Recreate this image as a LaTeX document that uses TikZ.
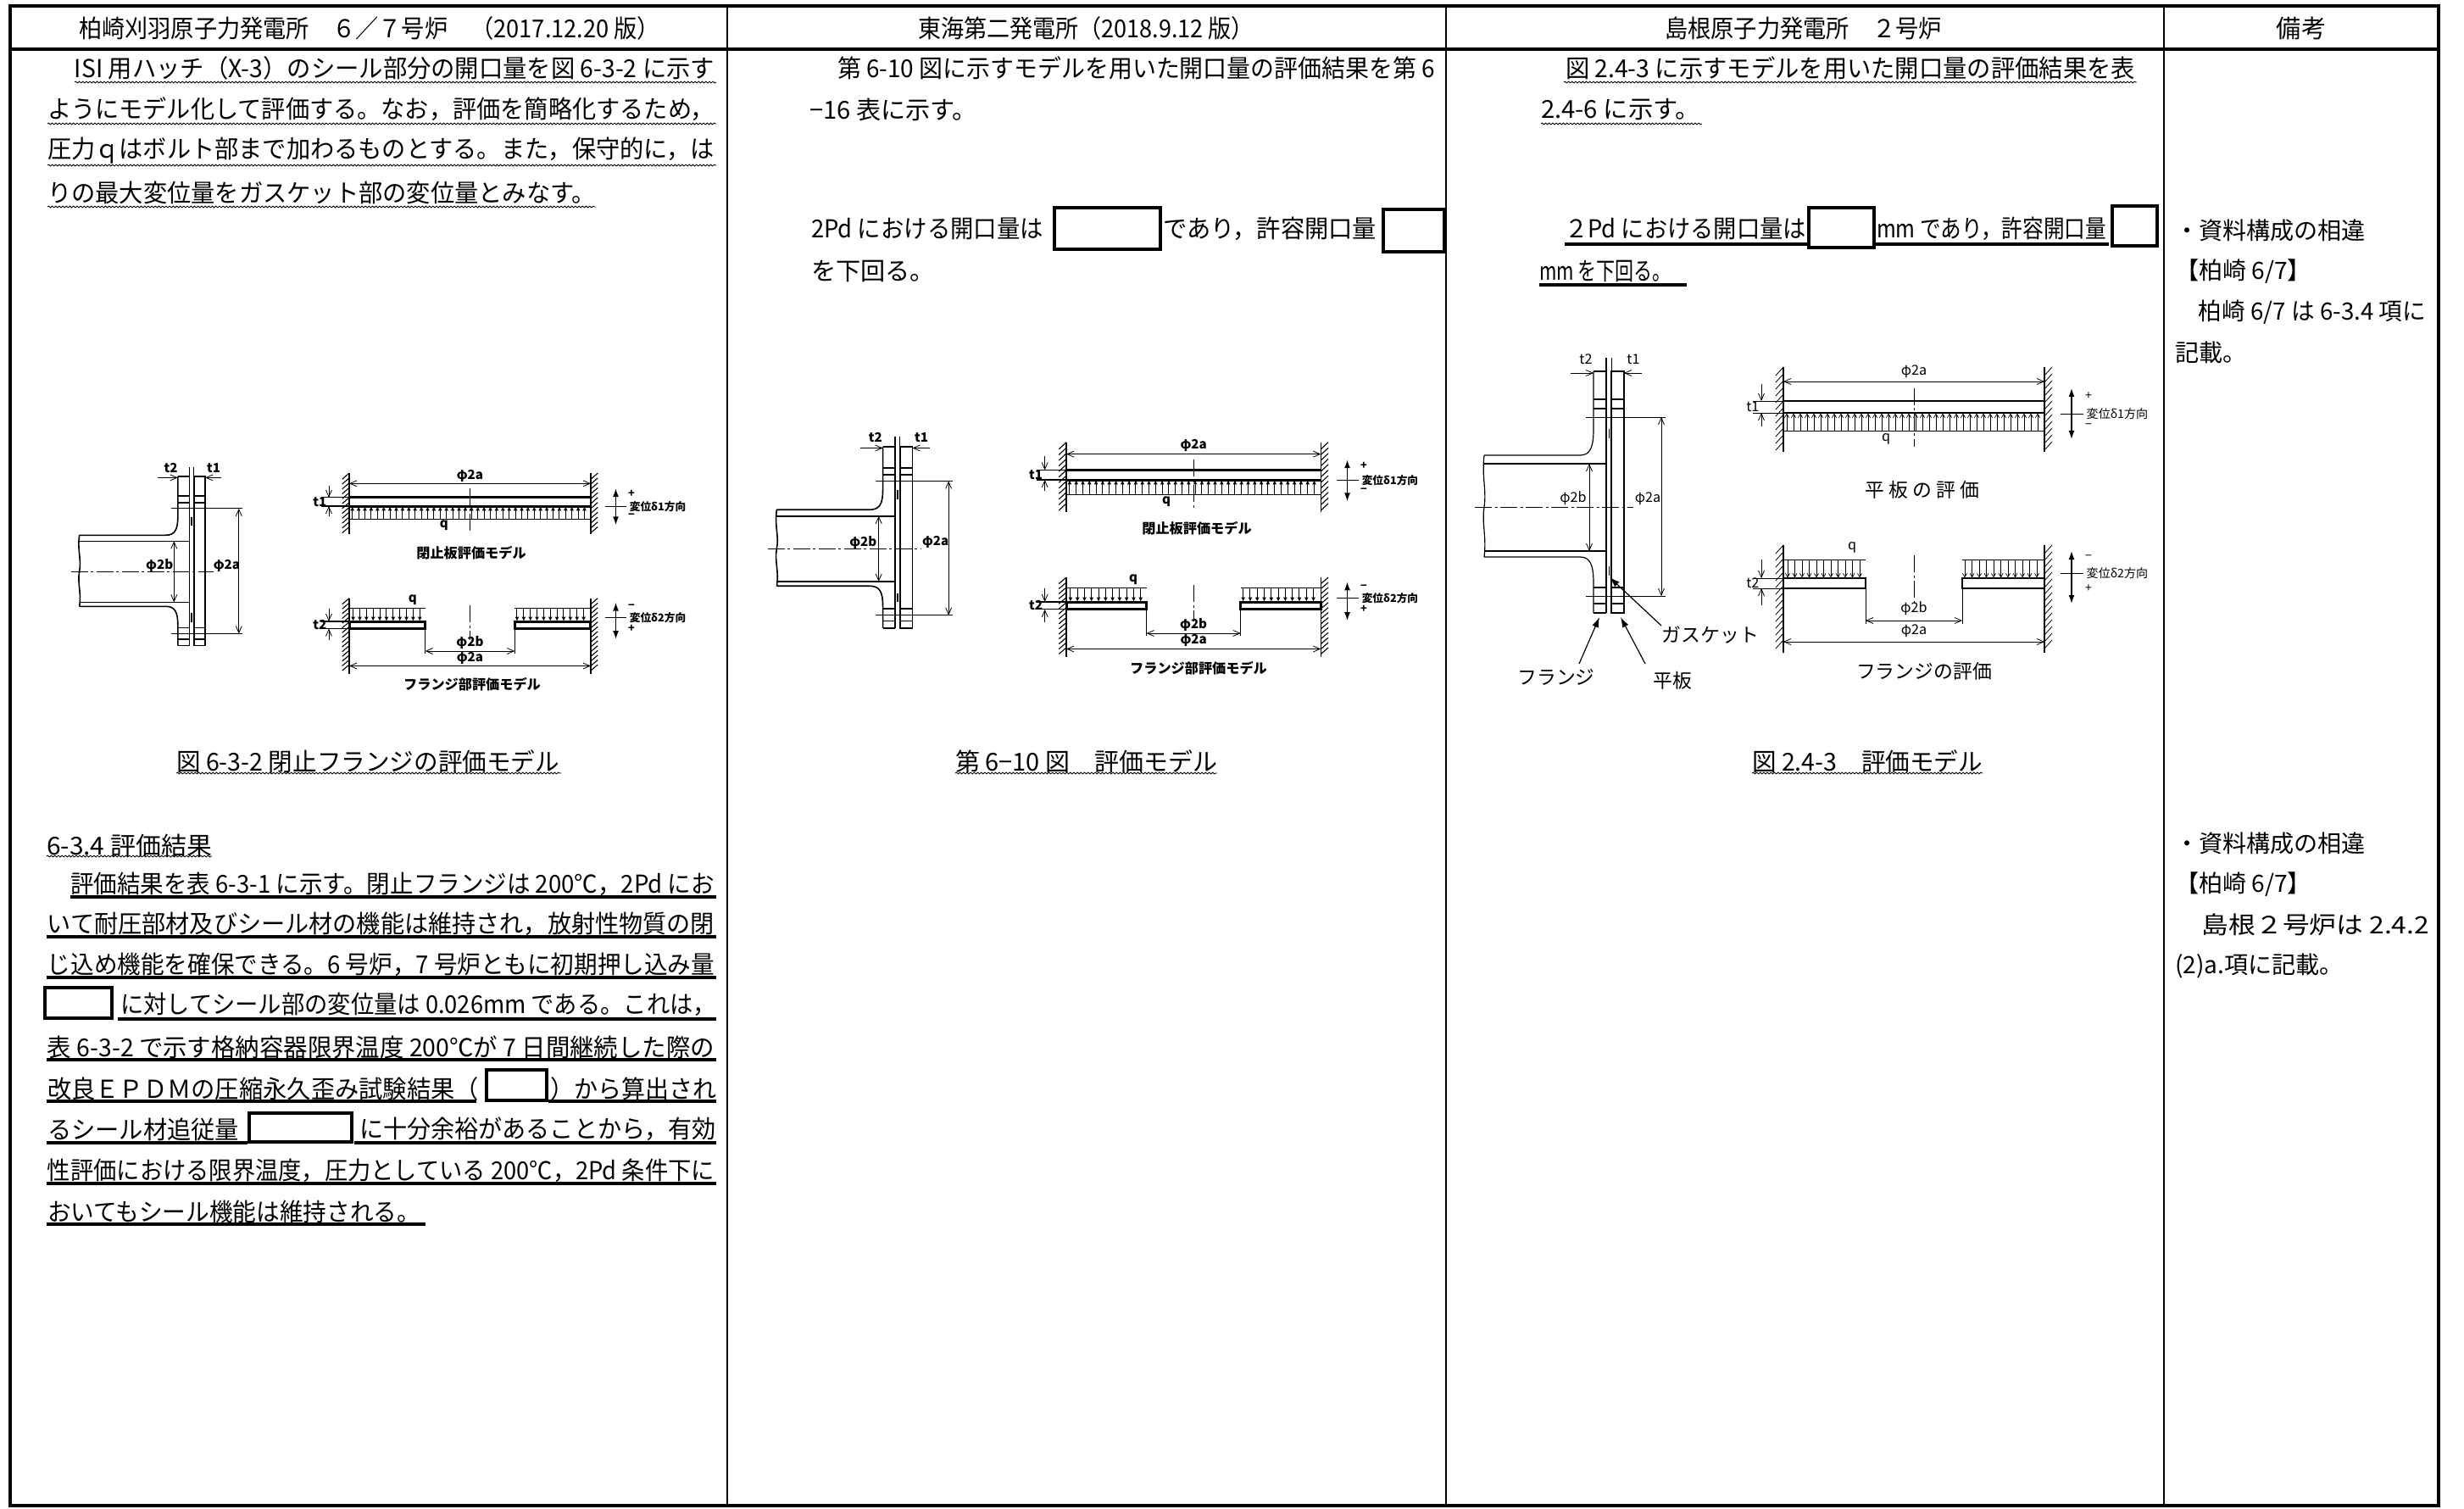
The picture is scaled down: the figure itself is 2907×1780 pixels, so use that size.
\documentclass[tikz,border=0pt]{standalone}
\usepackage{fontspec}
\usepackage{graphicx}
\newfontfamily\cjk{Noto Sans CJK JP}
\usetikzlibrary{arrows.meta,decorations.pathmorphing}
\newdimen\pxu \pxu=0.1mm
\newcommand\fw[2]{\resizebox{#1\pxu}{\height}{#2}}

\tikzset{
 txt/.style={inner sep=0pt, outer sep=0pt, anchor=west, font=\cjk\fontsize{8.3pt}{10pt}\selectfont},
 ctxt/.style={txt, anchor=center},
 nte/.style={txt, font=\cjk\fontsize{8pt}{10pt}\selectfont},
 wavy/.style={line width=0.09mm, decorate, decoration={snake, amplitude=0.09mm, segment length=0.42mm}},
 ul/.style={line width=0.33mm},
 blk/.style={draw, line width=0.45mm, fill=white},
 outer/.style={line width=0.35mm},
 colsep/.style={line width=0.22mm},
 pl/.style={line width=0.12mm},
 thinl/.style={line width=0.08mm},
 plt/.style={line width=0.24mm},
 cl/.style={line width=0.08mm, dash pattern=on 2mm off 0.35mm on 0.3mm off 0.35mm},
 dimn/.style={line width=0.08mm, {Straight Barb[length=0.8mm,width=0.7mm]}-{Straight Barb[length=0.8mm,width=0.7mm]}},
 dimr/.style={line width=0.08mm, -{Straight Barb[length=0.8mm,width=0.7mm]}},
 load/.style={line width=0.07mm, -{Straight Barb[length=0.45mm,width=0.5mm]}},
 dsp/.style={line width=0.15mm, {Latex[length=1mm,width=0.7mm]}-{Latex[length=1mm,width=0.7mm]}},
 lab/.style={inner sep=0pt, font=\cjk\fontsize{4.6pt}{5pt}\selectfont},
 slab/.style={inner sep=0pt, font=\cjk\fontsize{4pt}{5pt}\selectfont},
 glab/.style={inner sep=0pt, font=\cjk\fontsize{6.5pt}{7pt}\selectfont},
 bcap/.style={inner sep=0pt, font=\cjk\bfseries\fontsize{4.6pt}{5pt}\selectfont},
 leader/.style={line width=0.12mm, -{Latex[length=1.2mm,width=0.8mm]}},
 heavy/.style={pl/.style={line width=0.16mm}, plt/.style={line width=0.3mm},
   thinl/.style={line width=0.11mm},
   lab/.style={inner sep=0pt, font=\cjk\bfseries\fontsize{4.3pt}{5pt}\selectfont},
   slab/.style={inner sep=0pt, font=\cjk\bfseries\fontsize{3.6pt}{4pt}\selectfont},
   load/.style={line width=0.1mm, -{Latex[length=0.5mm,width=0.5mm]}}},
}

\newcommand\flangesec[1]{%
 \draw[pl] (3,-160) rectangle (18,125);
 \draw[pl] (-3,-176) -- (-3,125);
 \draw[thinl] (3,-176) -- (3,-160);
 \draw[pl] (-18,-160) -- (-3,-160) (-18,125) -- (-3,125);
 \draw[pl] (-18,-160) -- (-18,-92) .. controls (-18,-70) and (-22,-61) .. (-34,-61) -- (-147,-61);
 \draw[pl] (-18,125) -- (-18,90) .. controls (-18,68) and (-22,59) .. (-34,59) -- (-147,59);
 \draw[pl] (-147,-51) -- (-3,-51) (-147,52) -- (-3,52);
 \draw[pl] (-147,-61) .. controls (-150,-35) and (-144,-20) .. (-147,0) .. controls (-150,20) and (-144,35) .. (-147,59);
 \foreach \yy in {-127,-116,95,114} {\draw[pl] (-18,\yy) -- (-3,\yy) (3,\yy) -- (18,\yy);}
 \draw[thinl] (-27,-106) -- (67,-106) (-27,105) -- (67,105);
 \draw[thinl,dashed] (0,-92) -- (0,-72) (0,70) -- (0,90);
 \draw[cl] (-158,0) -- (29,0);
 \draw[dimn] (-23,-51) -- (-23,52);
 \draw[dimn] (62,-106) -- (62,105);
 \draw[dimr] (-45,-158) -- (-18,-158);
 \draw[dimr] (39,-158) -- (18,-158);
 \node[lab] (#1t2) at (-27,-174) {t2};
 \node[lab] (#1t1) at (29,-174) {t1};
 \node[lab] (#1b) at (-42,-10) {φ2b};
 \node[lab] (#1a) at (46,-10) {φ2a};
}

\newcommand\platemodel[1]{%
 \draw[pl] (0,-54) -- (0,46) (308,-54) -- (308,46);
 \foreach \yy in {-54,-46,...,36} {\draw[thinl] (-9,\yy+10) -- (0,\yy) (308,\yy+10) -- (317,\yy);}
 \draw[dimn] (0,-37) -- (308,-37);
 \node[lab] (#1a) at (154,-49) {φ2a};
 \draw[plt] (0,-14) -- (308,-14) (0,0) -- (308,0);
 \draw[thinl] (0,21) -- (308,21);
 \foreach \xx in {4,12,...,300} {\draw[load] (\xx,21) -- (\xx,0.5);}
 \node[lab] (#1q) at (121,31) {q};
 \draw[cl] (154,-29) -- (154,40);
 \draw[thinl] (-36,-14) -- (0,-14) (-36,0) -- (0,0);
 \draw[dimr] (-26,-34) -- (-26,-14);
 \draw[dimr] (-26,16) -- (-26,0);
 \node[lab,anchor=east] (#1t) at (-28,-7) {t1};
 \draw[dsp] (340,-29) -- (340,31);
 \draw[thinl] (327,1) -- (354,1);
 \node[slab] (#1p) at (360,-20) {+};
 \node[slab] (#1m) at (360,16) {−};
 \node[slab,anchor=west] (#1d) at (357,1) {変位δ1方向};
}

\newcommand\flangemodel[1]{%
 \draw[pl] (0,-39) -- (0,88) (308,-39) -- (308,88);
 \foreach \yy in {-39,-31,...,78} {\draw[thinl] (-9,\yy+10) -- (0,\yy) (308,\yy+10) -- (317,\yy);}
 \draw[plt] (0,0) rectangle (97,12) (211,0) rectangle (308,12);
 \draw[thinl] (0,-22) -- (97,-22) (211,-22) -- (308,-22);
 \foreach \xx in {5,13.5,...,95} {\draw[load] (\xx,-22) -- (\xx,-0.5);}
 \foreach \xx in {214,222.5,...,305} {\draw[load] (\xx,-22) -- (\xx,-0.5);}
 \node[lab] (#1q) at (81,-36) {q};
 \draw[cl] (154,-27) -- (154,31);
 \draw[thinl] (97,12) -- (97,54) (211,12) -- (211,54);
 \draw[dimn] (97,50) -- (211,50);
 \node[lab] (#1b) at (154,36) {φ2b};
 \draw[dimn] (0,75) -- (308,75);
 \node[lab] (#1a) at (154,62) {φ2a};
 \draw[thinl] (-36,0) -- (0,0) (-36,12) -- (0,12);
 \draw[dimr] (-26,-22) -- (-26,0);
 \draw[dimr] (-26,32) -- (-26,12);
 \node[lab,anchor=east] (#1t) at (-28,6) {t2};
 \draw[dsp] (340,-32) -- (340,30);
 \draw[thinl] (327,-6) -- (354,-6);
 \node[slab] (#1m) at (360,-24) {−};
 \node[slab] (#1p) at (360,12) {+};
 \node[slab,anchor=west] (#1d) at (357,-6) {変位δ2方向};
}

\begin{document}
\begin{tikzpicture}[x=0.1mm,y=-0.1mm]
\useasboundingbox (0,0) rectangle (2907,1780);
% ---------- table ----------
\draw[outer] (12,7) rectangle (2877,1776);
\draw[outer] (12,58) -- (2877,58);
\foreach \xx in {858,1706,2553} {\draw[colsep] (\xx,7) -- (\xx,1776);}

% ---------- headers ----------
\node[txt] (h1) at (93,33) {\fw{686}{柏崎刈羽原子力発電所　６／７号炉　（2017.12.20 版）}};
\node[txt] (h2) at (1083,33) {\fw{397}{東海第二発電所（2018.9.12 版）}};
\node[txt] (h3) at (1964,33) {\fw{327}{島根原子力発電所　２号炉}};
\node[ctxt] (h4) at (2715,33) {備考};

% ---------- column 1 ----------
\node[txt] (a1) at (88,80) {\fw{755}{ISI 用ハッチ（X-3）のシール部分の開口量を図 6-3-2 に示す}};
\node[txt] (a2) at (56,129) {\fw{787}{ようにモデル化して評価する。なお，評価を簡略化するため，}};
\node[txt] (a3) at (56,178) {\fw{787}{圧力ｑはボルト部まで加わるものとする。また，保守的に，は}};
\node[txt] (a4) at (56,227) {\fw{647}{りの最大変位量をガスケット部の変位量とみなす。}};
\draw[wavy] (88,97) -- (845,97);
\draw[wavy] (56,146) -- (845,146);
\draw[wavy] (56,195) -- (845,195);
\draw[wavy] (56,244) -- (703,244);

\node[txt] (a5) at (208,898) {\fw{452}{図 6-3-2 閉止フランジの評価モデル}};
\draw[wavy] (208,912) -- (662,912);
\node[txt] (a6) at (55,997) {\fw{195}{6-3.4 評価結果}};
\draw[wavy] (55,1010) -- (250,1010);

\node[txt] (bA) at (83,1043) {\fw{760}{評価結果を表 6-3-1 に示す。閉止フランジは 200℃，2Pd にお}};
\node[txt] (bB) at (56,1090) {\fw{787}{いて耐圧部材及びシール材の機能は維持され，放射性物質の閉}};
\node[txt] (bC) at (56,1138) {\fw{787}{じ込め機能を確保できる。6 号炉，7 号炉ともに初期押し込み量}};
\draw[blk] (53,1165) rectangle (132,1201);
\node[txt] (bD) at (142,1185) {\fw{703}{に対してシール部の変位量は 0.026mm である。これは，}};
\node[txt] (bE) at (56,1235) {\fw{787}{表 6-3-2 で示す格納容器限界温度 200℃が 7 日間継続した際の}};
\node[txt] (bF1) at (56,1284) {\fw{509}{改良ＥＰＤＭの圧縮永久歪み試験結果（}};
\draw[blk] (574,1262) rectangle (645,1298);
\node[txt] (bF2) at (649,1284) {\fw{196}{）から算出され}};
\node[txt] (bG1) at (56,1332) {\fw{226}{るシール材追従量}};
\draw[blk] (294,1313) rectangle (415,1347);
\node[txt] (bG2) at (424,1332) {\fw{421}{に十分余裕があることから，有効}};
\node[txt] (bH) at (56,1381) {\fw{787}{性評価における限界温度，圧力としている 200℃，2Pd 条件下に}};
\node[txt] (bI) at (56,1429) {\fw{440}{おいてもシール機能は維持される。}};
\draw[ul] (83,1058) -- (845,1058);
\draw[ul] (55,1105) -- (845,1105);
\draw[ul] (55,1153) -- (845,1153);
\draw[ul] (139,1202) -- (845,1202);
\draw[ul] (55,1250) -- (845,1250);
\draw[ul] (55,1299) -- (562,1299) (647,1299) -- (845,1299);
\draw[ul] (55,1348) -- (292,1348) (418,1348) -- (845,1348);
\draw[ul] (55,1396) -- (845,1396);
\draw[ul] (55,1444) -- (502,1444);

% ---------- column 2 ----------
\node[txt] (c1) at (988,80) {\fw{705}{第 6-10 図に示すモデルを用いた開口量の評価結果を第 6}};
\node[txt] (c2) at (955,129) {−16 表に示す。};
\node[txt] (c3) at (957,270) {\fw{274}{2Pd における開口量は}};
\draw[blk] (1244,245) rectangle (1369,294);
\node[txt] (c4) at (1372,270) {\fw{252}{であり，許容開口量}};
\draw[blk] (1632,247) rectangle (1704,297);
\node[txt] (c5) at (957,320) {を下回る。};
\node[txt] (c6) at (1127,898) {\fw{309}{第 6−10 図　評価モデル}};
\draw[wavy] (1127,912) -- (1436,912);

% ---------- column 3 ----------
\node[txt] (d1) at (1847,80) {\fw{672}{図 2.4-3 に示すモデルを用いた開口量の評価結果を表}};
\draw[wavy] (1845,97) -- (2521,97);
\node[txt] (d2) at (1818,129) {\fw{188}{2.4-6 に示す。}};
\draw[wavy] (1818,146) -- (2008,146);
\draw[ul] (1846,288) -- (2488,288);
\node[txt] (d3) at (1846,270) {\fw{285}{２Pd における開口量は}};
\draw[blk] (2134,245) rectangle (2211,292);
\node[txt] (d4) at (2214,270) {\fw{271}{mm であり，許容開口量}};
\draw[blk] (2492,243) rectangle (2545,290);
\node[txt] (d5) at (1816,320) {\fw{156}{mm を下回る。}};
\draw[ul] (1816,336) -- (1990,336);
\node[txt] (d6) at (2067,898) {\fw{272}{図 2.4-3　評価モデル}};
\draw[wavy] (2067,912) -- (2339,912);

% ---------- column 4 ----------
\node[nte] (e1) at (2566,272) {・資料構成の相違};
\node[nte] (e2) at (2566,320) {【柏崎 6/7】};
\node[nte] (e3) at (2566,368) {\fw{296}{　柏崎 6/7 は 6-3.4 項に}};
\node[nte] (e4) at (2566,416) {記載。};
\node[nte] (e5) at (2566,995) {・資料構成の相違};
\node[nte] (e6) at (2566,1043) {【柏崎 6/7】};
\node[nte] (e7) at (2566,1091) {\fw{300}{　島根２号炉は 2.4.2}};
\node[nte] (e8) at (2566,1139) {(2)a.項に記載。};

% ---------- figures: column 1 ----------
\begin{scope}[shift={(226,674)}, xscale=0.9, yscale=0.7, heavy]\flangesec{s1}\end{scope}
\begin{scope}[shift={(412,597)}, xscale=0.925, yscale=0.72, heavy]\platemodel{p1}\end{scope}
\begin{scope}[shift={(412,733)}, xscale=0.925, yscale=0.7, heavy]\flangemodel{f1}\end{scope}
\node[bcap] (k1) at (556,652) {閉止板評価モデル};
\node[bcap] (k2) at (557,807) {フランジ部評価モデル};

% ---------- figures: column 2 ----------
\begin{scope}[shift={(1059,647)}, xscale=0.97, yscale=0.75, heavy]\flangesec{s2}\end{scope}
\begin{scope}[shift={(1258,566)}, xscale=0.975, yscale=0.82, heavy]\platemodel{p2}\end{scope}
\begin{scope}[shift={(1258,710)}, xscale=0.975, yscale=0.74, heavy]\flangemodel{f2}\end{scope}
\node[bcap] (k3) at (1412,623) {閉止板評価モデル};
\node[bcap] (k4) at (1414,788) {フランジ部評価モデル};

% ---------- figures: column 3 ----------
\begin{scope}[shift={(1898,598)}]\flangesec{s3}\end{scope}
\begin{scope}[shift={(2104,487)}]\platemodel{p3}\end{scope}
\begin{scope}[shift={(2104,682)}]\flangemodel{f3}\end{scope}
\node[glab] (k5) at (2268,578) {平\kern0.5mm 板\kern0.5mm の\kern0.5mm 評\kern0.5mm 価};
\node[glab] (k6) at (2270,792) {フランジの評価};
\node[glab, anchor=west] (gk) at (1960,749) {ガスケット};
\node[glab] (fl) at (1836,799) {フランジ};
\node[glab] (hb) at (1973,803) {平板};
\coordinate (gkP) at (1899,681);
\coordinate (flP) at (1887,728);
\coordinate (hbP) at (1912,728);
\coordinate (flS) at (1863,783);
\coordinate (hbS) at (1941,783);
\draw[leader] (gk.north west) -- (gkP);
\draw[leader] (flS) -- (flP);
\draw[leader] (hbS) -- (hbP);
\end{tikzpicture}
\end{document}
